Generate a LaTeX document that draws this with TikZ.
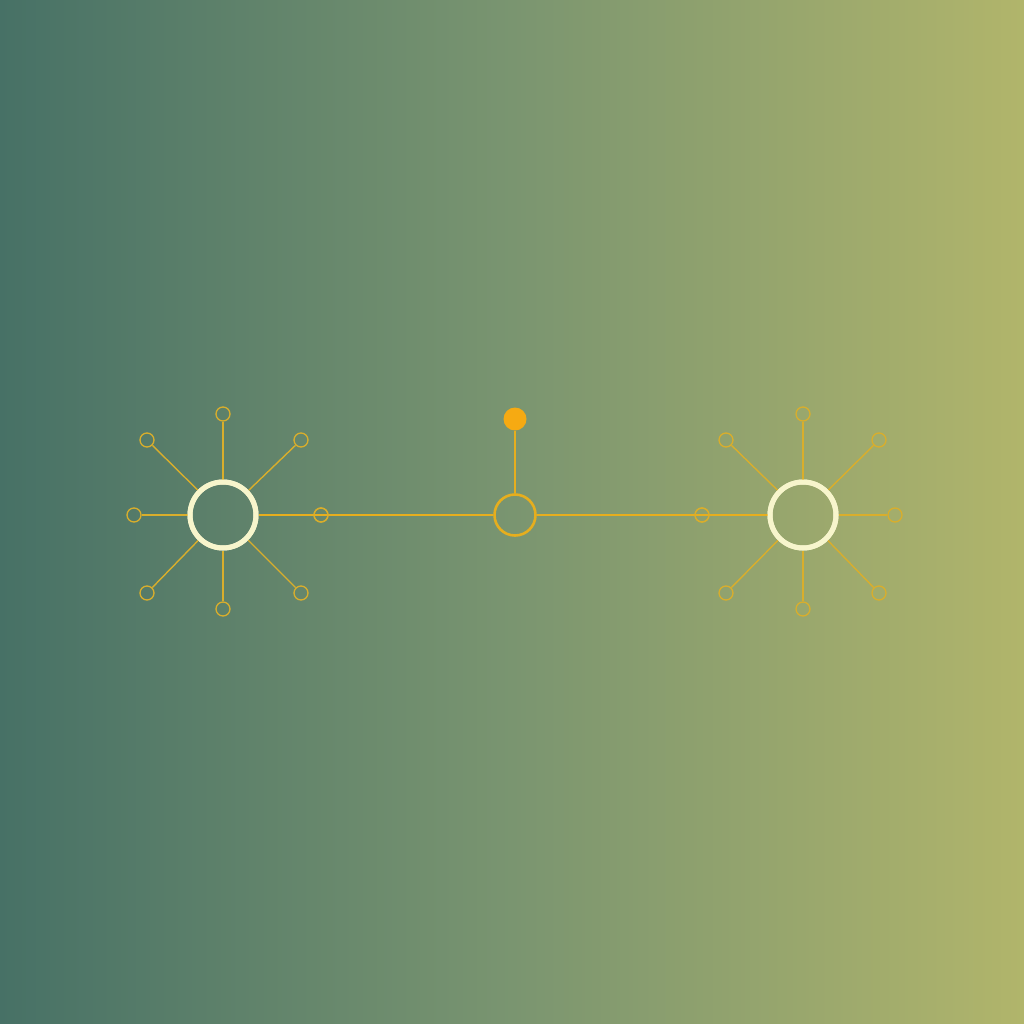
\documentclass[tikz,border=0pt]{standalone}
\begin{document}
\begin{tikzpicture}[x=1pt,y=-1pt,
  hub/.style={circle,draw=hubc,line width=5pt,minimum size=66pt,inner sep=0pt},
  leaf/.style={circle,draw=spokec,line width=1.3pt,minimum size=14pt,inner sep=0pt},
  spoke/.style={draw=spokec,line width=1.4pt},
  link/.style={draw=linkc,line width=2pt},
  mid/.style={circle,draw=linkc,line width=2.6pt,minimum size=41pt,inner sep=0pt},
  dot/.style={circle,fill=dotc,minimum size=23pt,inner sep=0pt}]
\definecolor{bgl}{HTML}{477166}
\definecolor{bgm}{HTML}{7A9570}
\definecolor{bgr}{HTML}{B1B56B}
\definecolor{hubc}{HTML}{F7F5CC}
\definecolor{spokec}{HTML}{D9AE2C}
\definecolor{linkc}{HTML}{E6AE1E}
\definecolor{dotc}{HTML}{F6AA12}
\useasboundingbox (0,0) rectangle (1024,1024);
\shade[left color=bgl,right color=bgr,middle color=bgm] (0,0) rectangle (1024,1024);
% center
\node[mid] (c) at (515,515) {};
\node[dot] (d) at (515,419) {};
% left hub leaves
\node[leaf] (l1) at (223,414) {};
\node[leaf] (l2) at (301,440) {};
\node[leaf] (l3) at (321,515) {};
\node[leaf] (l4) at (301,593) {};
\node[leaf] (l5) at (223,609) {};
\node[leaf] (l6) at (147,593) {};
\node[leaf] (l7) at (134,515) {};
\node[leaf] (l8) at (147,440) {};
% right hub leaves
\node[leaf] (r1) at (803,414) {};
\node[leaf] (r2) at (879,440) {};
\node[leaf] (r3) at (895,515) {};
\node[leaf] (r4) at (879,593) {};
\node[leaf] (r5) at (803,609) {};
\node[leaf] (r6) at (726,593) {};
\node[leaf] (r7) at (702,515) {};
\node[leaf] (r8) at (726,440) {};
\node[hub] (L) at (223,515) {};
\node[hub] (R) at (803,515) {};
% spokes
\foreach \i in {1,2,4,5,6,7,8} {\draw[spoke] (L) -- (l\i);}
\foreach \i in {1,2,3,4,5,6,8} {\draw[spoke] (R) -- (r\i);}
\draw[link] (L) -- (c);
\draw[link] (c) -- (R);
\draw[link] (c) -- (d);
\node[leaf] at (l3) {};
\node[leaf] at (r7) {};
\node[hub] at (L) {};
\node[hub] at (R) {};
\end{tikzpicture}
\end{document}
